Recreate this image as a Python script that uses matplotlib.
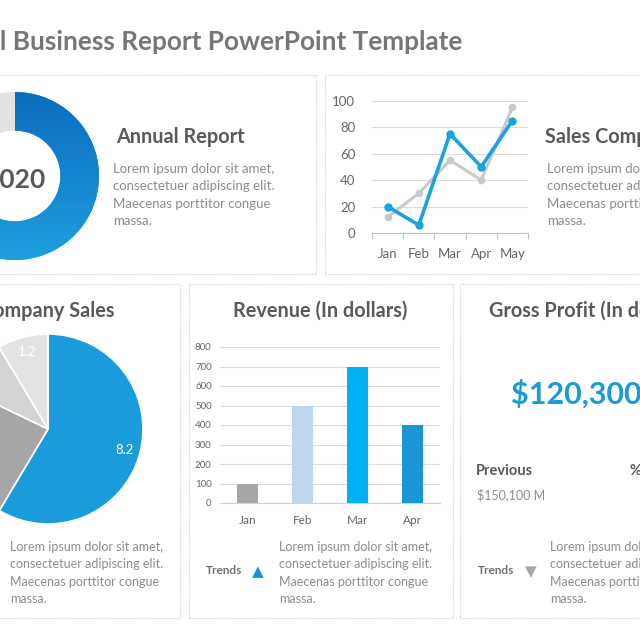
"""
Annual business report dashboard (cropped slide view).
"""

import numpy as np
import matplotlib
matplotlib.use('Agg')
import matplotlib.pyplot as plt
from matplotlib.patches import Rectangle
from matplotlib.colors import LinearSegmentedColormap

# ── Data ──────────────────────────────────────────────────────
donut_values = [85, 15]
donut_colors = ['#1a8ad4', '#e2e2e2']

line_months = ['Jan', 'Feb', 'Mar', 'Apr', 'May']
line_blue = [20, 6, 75, 50, 85]
line_gray = [12, 30, 55, 40, 95]

pie_values = [8.2, 3.3, 1.3, 1.2]
pie_colors = ['#1a9bdc', '#a6a6a6', '#d4d4d4', '#e3e3e3']

bar_months = ['Jan', 'Feb', 'Mar', 'Apr']
bar_values = [100, 500, 700, 400]
bar_colors = ['#a6a6a6', '#bdd7ee', '#00b0f0', '#1b95d6']

lorem = ["Lorem ipsum dolor sit amet,",
         "consectetuer adipiscing elit.",
         "Maecenas porttitor congue",
         "massa."]

# ── Style ─────────────────────────────────────────────────────
plt.rcParams['font.family'] = ['Lato', 'DejaVu Sans']
DARK = '#595959'
LIGHT = '#8c8c8c'
BLUE = '#1aa3dc'
HEAD = 14.3

W = H = 640
fig = plt.figure(figsize=(6.4, 6.4), dpi=100, facecolor='white')


def fx(x):
    return x / W


def fy(y):
    return 1 - y / H


def px_axes(x0, y0, x1, y1):
    return fig.add_axes([fx(x0), fy(y1), (x1 - x0) / W, (y1 - y0) / H])


def text(x, y, s, **kw):
    kw.setdefault('va', 'center')
    fig.text(fx(x), fy(y), s, **kw)


def lorem_block(x, y, size=9.5):
    for i, line in enumerate(lorem):
        text(x, y + i * 17.4, line, fontsize=size, color=LIGHT)


# ── Panel frames ──────────────────────────────────────────────
for (x0, y0, x1, y1) in [(-5, 75, 316, 274), (325, 75, 660, 274),
                         (-5, 284, 180, 618), (189, 284, 453, 618),
                         (460, 284, 660, 618)]:
    fig.patches.append(Rectangle((fx(x0), fy(y1)), (x1 - x0) / W, (y1 - y0) / H,
                                 transform=fig.transFigure, fill=False,
                                 edgecolor='#d0d0d0', lw=0.9,
                                 linestyle=(0, (1, 1))))

# ── Title ─────────────────────────────────────────────────────
text(463, 42, "Annual Business Report PowerPoint Template", ha='right',
     fontsize=18.8, fontweight='bold', color='#767676')

# ── Donut (top-left) ──────────────────────────────────────────
cx, cy, R = 15, 176, 84
ax = px_axes(cx - 1.25 * R, cy - 1.25 * R, cx + 1.25 * R, cy + 1.25 * R)
wedges, _ = ax.pie(donut_values, colors=donut_colors, startangle=90,
                   counterclock=False, wedgeprops=dict(width=0.46, lw=0))
grad = LinearSegmentedColormap.from_list('g', ['#0b6cc0', '#1e9fe0'])
img = ax.imshow(np.linspace(0, 1, 256).reshape(-1, 1), cmap=grad,
                extent=(-1, 1, -1, 1), origin='upper', aspect='auto', zorder=3)
img.set_clip_path(wedges[0])
ax.set_xlim(-1.25, 1.25)
ax.set_ylim(-1.25, 1.25)
ax.set_aspect('equal')
ax.axis('off')
text(15, 180, "2020", ha='center', fontsize=19, fontweight='bold', color=DARK)

text(116, 137, "Annual Report", fontsize=HEAD, fontweight='bold', color=DARK)
lorem_block(113, 169)

# ── Line chart (top-right) ────────────────────────────────────
ax = px_axes(372, 100.7, 528, 233)
xs = np.arange(len(line_months))
ax.plot(xs, line_gray, color='#c9c9c9', lw=2.2, marker='o', ms=4.5, zorder=2)
ax.plot(xs, line_blue, color=BLUE, lw=2.6, marker='o', ms=5, zorder=3)
ax.set_xlim(-0.5, len(line_months) - 0.5)
ax.set_ylim(0, 100)
ax.set_yticks(range(0, 101, 20))
ax.set_xticks(xs)
ax.set_xticklabels(line_months)
ax.set_xticks(np.arange(-0.5, len(line_months)), minor=True)
ax.tick_params(axis='x', which='major', length=0, pad=11, labelsize=9.5,
               labelcolor='#666666')
ax.tick_params(axis='x', which='minor', length=4, color='#bfbfbf', width=0.8)
ax.tick_params(axis='y', length=0, pad=12, labelsize=9.5, labelcolor='#666666')
ax.grid(axis='y', color='#dcdcdc', lw=0.8)
ax.set_axisbelow(True)
for s in ['top', 'right', 'left']:
    ax.spines[s].set_visible(False)
ax.spines['bottom'].set_color('#bfbfbf')
ax.spines['bottom'].set_linewidth(0.8)

text(545, 137, "Sales Comparison", fontsize=HEAD, fontweight='bold', color=DARK)
lorem_block(547, 169)

# ── Pie (bottom-left) ─────────────────────────────────────────
cx, cy, R = 48, 429, 95
ax = px_axes(cx - 1.25 * R, cy - 1.25 * R, cx + 1.25 * R, cy + 1.25 * R)
ax.pie(pie_values, colors=pie_colors, startangle=90, counterclock=False,
       labels=[f'{v:.1f}' for v in pie_values], labeldistance=0.84,
       textprops=dict(color='white', fontsize=9.5, ha='center', va='center'),
       wedgeprops=dict(edgecolor='white', lw=1.2))
ax.set_xlim(-1.25, 1.25)
ax.set_ylim(-1.25, 1.25)
ax.axis('off')

text(114, 311, "Company Sales", ha='right', fontsize=HEAD, fontweight='bold',
     color=DARK)
lorem_block(10, 547, size=9)

# ── Bar chart (bottom-middle) ─────────────────────────────────
ax = px_axes(220, 347, 440, 503)
bx = np.arange(len(bar_months))
ax.bar(bx, bar_values, color=bar_colors, width=0.39, zorder=3)
ax.set_xlim(-0.5, len(bar_months) - 0.5)
ax.set_ylim(0, 800)
ax.set_yticks(range(0, 801, 100))
ax.set_xticks(bx)
ax.set_xticklabels(bar_months)
ax.tick_params(axis='x', length=0, pad=9, labelsize=8.5, labelcolor='#666666')
ax.tick_params(axis='y', length=0, pad=6, labelsize=7, labelcolor='#666666')
ax.grid(axis='y', color='#dcdcdc', lw=0.8)
ax.set_axisbelow(True)
for s in ['top', 'right', 'left']:
    ax.spines[s].set_visible(False)
ax.spines['bottom'].set_color('#d0d0d0')

text(320, 311, "Revenue (In dollars)", ha='center', fontsize=HEAD,
     fontweight='bold', color=DARK)
text(206, 571, "Trends", fontsize=8.5, fontweight='bold', color='#707070')
text(258, 572, "\u25B2", ha='center', fontsize=11, color='#1a8fd6',
     family='DejaVu Sans')
lorem_block(279, 547, size=9)

# ── Gross profit (bottom-right) ───────────────────────────────
text(489, 311, "Gross Profit (In dollars)", fontsize=HEAD, fontweight='bold',
     color=DARK)
text(511, 394, "$120,300 M", fontsize=22, fontweight='bold', color='#1a9ad8')
text(476, 471, "Previous", fontsize=10.5, fontweight='bold', color=DARK)
text(630, 471, "% Change", fontsize=10.5, fontweight='bold', color=DARK)
text(477, 495, "$150,100 M", fontsize=9, color=LIGHT)
text(478, 571, "Trends", fontsize=8.5, fontweight='bold', color='#707070')
text(531, 572, "\u25BC", ha='center', fontsize=11, color='#a6a6a6',
     family='DejaVu Sans')
lorem_block(550, 547, size=9)

plt.savefig('out.png', dpi=100, facecolor='white')
plt.close()
